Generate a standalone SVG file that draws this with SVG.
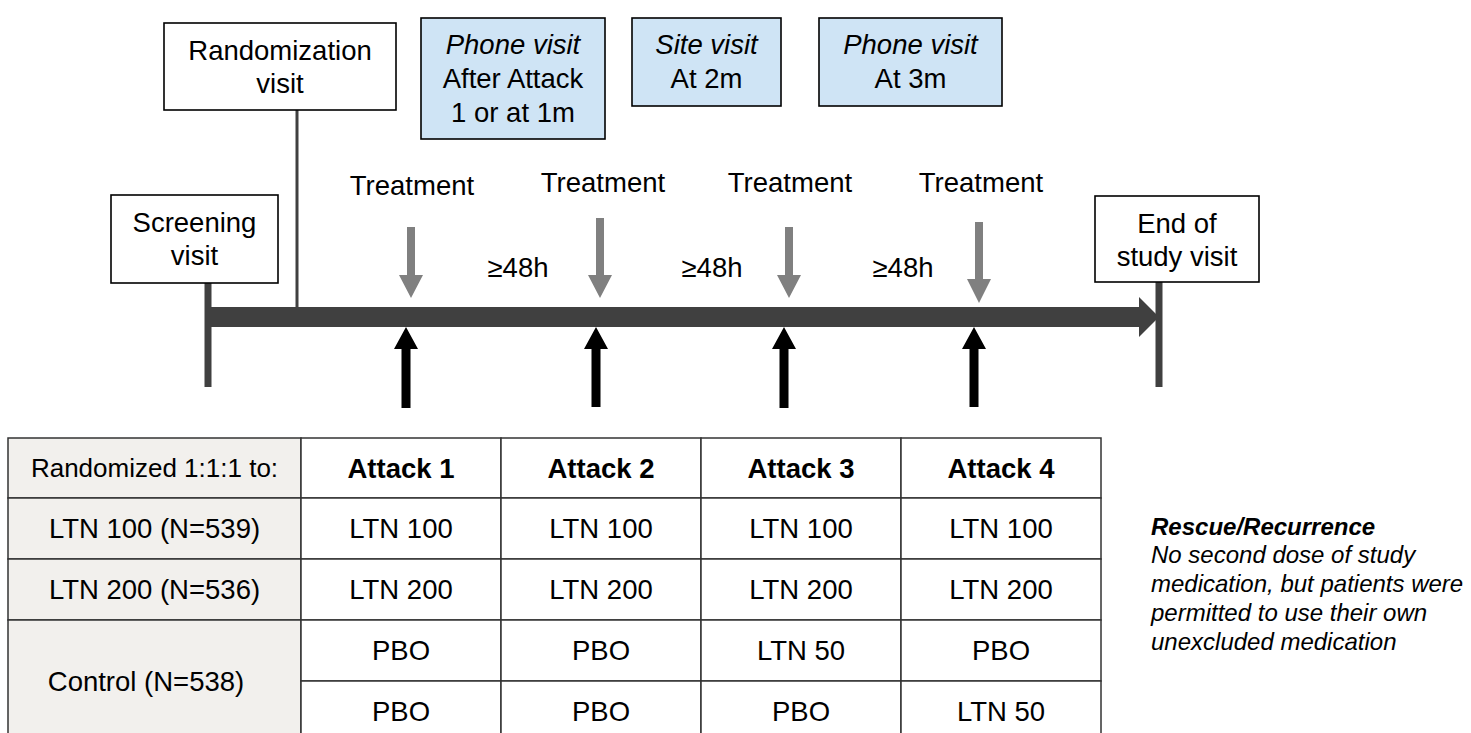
<svg xmlns="http://www.w3.org/2000/svg" width="1471" height="733" viewBox="0 0 1471 733">
  <style>
    text { font-family: "Liberation Sans", Arial, sans-serif; fill: #000; }
    .t { font-size: 27.5px; text-anchor: middle; }
    .it { font-style: italic; }
    .box { fill: #fff; stroke: #000; stroke-width: 1.6; }
    .blue { fill: #cfe4f5; stroke: #000; stroke-width: 1.6; }
    .gray { fill: #808080; }
    .blk { fill: #000; }
    .tl { fill: #404040; }
    .cell { fill: #fff; stroke: #333; stroke-width: 1.5; }
    .hcell { fill: #f2f0ed; stroke: #333; stroke-width: 1.5; }
    .tt { font-size: 27.5px; text-anchor: middle; }
    .bold { font-weight: bold; }
    .note { font-size: 24px; font-style: italic; }
  </style>

  <!-- Connectors / timeline -->
  <g id="connectors">
    <rect class="tl" x="295.5" y="110" width="3" height="198"/>
    <rect class="tl" x="204.5" y="283" width="7" height="104"/>
    <rect class="tl" x="1155.5" y="282" width="7" height="105"/>
    <polygon class="tl" points="208,307 1139,307 1139,297 1159,317 1139,337 1139,327 208,327"/>
    <!-- treatment arrows -->
    <polygon class="gray" points="407,227 415,227 415,275 423,275 411,298 399,275 407,275"/>
    <polygon class="gray" points="596,218 604,218 604,275 612,275 600,298 588,275 596,275"/>
    <polygon class="gray" points="785,227 793,227 793,275 801,275 789,298 777,275 785,275"/>
    <polygon class="gray" points="975,222 983,222 983,279 991,279 979,303 967,279 975,279"/>
    <!-- attack arrows -->
    <polygon class="blk" points="406,327 418,349 410.5,349 410.5,408 401.5,408 401.5,349 394,349"/>
    <polygon class="blk" points="596,327 608,349 600.5,349 600.5,407 591.5,407 591.5,349 584,349"/>
    <polygon class="blk" points="784,327 796,349 788.5,349 788.5,408 779.5,408 779.5,349 772,349"/>
    <polygon class="blk" points="974,327 986,349 978.5,349 978.5,407 969.5,407 969.5,349 962,349"/>
  </g>

  <g id="randomization">
    <rect class="box" x="164" y="23" width="232" height="87"/>
    <text class="t" x="280" y="60">Randomization</text>
    <text class="t" x="280" y="93">visit</text>
  </g>

  <g id="phone1">
    <rect class="blue" x="421" y="18" width="184" height="121"/>
    <text class="t it" x="513" y="54">Phone visit</text>
    <text class="t" x="513" y="88">After Attack</text>
    <text class="t" x="513" y="122">1 or at 1m</text>
  </g>

  <g id="site">
    <rect class="blue" x="632" y="18" width="149" height="88"/>
    <text class="t it" x="706.5" y="54">Site visit</text>
    <text class="t" x="706.5" y="88">At 2m</text>
  </g>

  <g id="phone2">
    <rect class="blue" x="819" y="18" width="183" height="88"/>
    <text class="t it" x="910.5" y="54">Phone visit</text>
    <text class="t" x="910.5" y="88">At 3m</text>
  </g>

  <g id="screening">
    <rect class="box" x="111" y="195" width="167" height="88"/>
    <text class="t" x="194.5" y="232">Screening</text>
    <text class="t" x="194.5" y="265">visit</text>
  </g>

  <g id="endofstudy">
    <rect class="box" x="1095" y="196" width="164" height="86"/>
    <text class="t" x="1177" y="233">End of</text>
    <text class="t" x="1177" y="266">study visit</text>
  </g>

  <g id="labels">
    <text class="t" x="412" y="195">Treatment</text>
    <text class="t" x="603" y="192">Treatment</text>
    <text class="t" x="790" y="192">Treatment</text>
    <text class="t" x="981" y="192">Treatment</text>
    <text class="t" x="518" y="277">≥48h</text>
    <text class="t" x="712" y="277">≥48h</text>
    <text class="t" x="903" y="277">≥48h</text>
  </g>

  <g id="table">
    <rect class="hcell" x="8" y="438" width="293" height="60"/>
    <rect class="hcell" x="8" y="498" width="293" height="61"/>
    <rect class="hcell" x="8" y="559" width="293" height="61"/>
    <rect class="hcell" x="8" y="620" width="293" height="122"/>
    <g>
      <rect class="cell" x="301" y="438" width="200" height="60"/>
      <rect class="cell" x="501" y="438" width="200" height="60"/>
      <rect class="cell" x="701" y="438" width="200" height="60"/>
      <rect class="cell" x="901" y="438" width="200" height="60"/>
      <rect class="cell" x="301" y="498" width="200" height="61"/>
      <rect class="cell" x="501" y="498" width="200" height="61"/>
      <rect class="cell" x="701" y="498" width="200" height="61"/>
      <rect class="cell" x="901" y="498" width="200" height="61"/>
      <rect class="cell" x="301" y="559" width="200" height="61"/>
      <rect class="cell" x="501" y="559" width="200" height="61"/>
      <rect class="cell" x="701" y="559" width="200" height="61"/>
      <rect class="cell" x="901" y="559" width="200" height="61"/>
      <rect class="cell" x="301" y="620" width="200" height="61"/>
      <rect class="cell" x="501" y="620" width="200" height="61"/>
      <rect class="cell" x="701" y="620" width="200" height="61"/>
      <rect class="cell" x="901" y="620" width="200" height="61"/>
      <rect class="cell" x="301" y="681" width="200" height="61"/>
      <rect class="cell" x="501" y="681" width="200" height="61"/>
      <rect class="cell" x="701" y="681" width="200" height="61"/>
      <rect class="cell" x="901" y="681" width="200" height="61"/>
    </g>
    <text class="tt" x="154.5" y="477" style="font-size:26px">Randomized 1:1:1 to:</text>
    <text class="tt bold" x="401" y="478">Attack 1</text>
    <text class="tt bold" x="601" y="478">Attack 2</text>
    <text class="tt bold" x="801" y="478">Attack 3</text>
    <text class="tt bold" x="1001" y="478">Attack 4</text>

    <text class="tt" x="154.5" y="538">LTN 100 (N=539)</text>
    <text class="tt" x="401" y="538">LTN 100</text>
    <text class="tt" x="601" y="538">LTN 100</text>
    <text class="tt" x="801" y="538">LTN 100</text>
    <text class="tt" x="1001" y="538">LTN 100</text>

    <text class="tt" x="154.5" y="599">LTN 200 (N=536)</text>
    <text class="tt" x="401" y="599">LTN 200</text>
    <text class="tt" x="601" y="599">LTN 200</text>
    <text class="tt" x="801" y="599">LTN 200</text>
    <text class="tt" x="1001" y="599">LTN 200</text>

    <text class="tt" x="146" y="691">Control (N=538)</text>
    <text class="tt" x="401" y="660">PBO</text>
    <text class="tt" x="601" y="660">PBO</text>
    <text class="tt" x="801" y="660">LTN 50</text>
    <text class="tt" x="1001" y="660">PBO</text>

    <text class="tt" x="401" y="721">PBO</text>
    <text class="tt" x="601" y="721">PBO</text>
    <text class="tt" x="801" y="721">PBO</text>
    <text class="tt" x="1001" y="721">LTN 50</text>
  </g>

  <g id="rescue-note">
    <text class="note bold" x="1151" y="535">Rescue/Recurrence</text>
    <text class="note" x="1151" y="563">No second dose of study</text>
    <text class="note" x="1151" y="592">medication, but patients were</text>
    <text class="note" x="1151" y="621">permitted to use their own</text>
    <text class="note" x="1151" y="650">unexcluded medication</text>
  </g>
</svg>
